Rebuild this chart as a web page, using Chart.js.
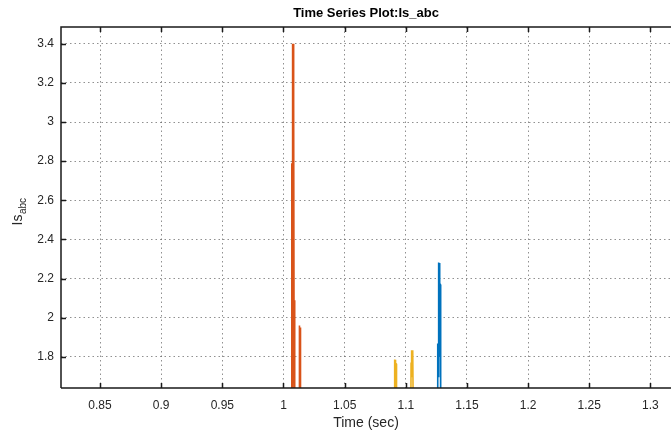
<!DOCTYPE html>
<html>
<head>
<meta charset="utf-8">
<script src="https://cdn.jsdelivr.net/npm/chart.js@4.4.1/dist/chart.umd.min.js"></script>
<style>
  html, body { margin: 0; padding: 0; background: #ffffff; overflow: hidden; }
  canvas { display: block; }
</style>
</head>
<body>
<canvas id="c" width="671" height="432"></canvas>
<script>
// ---- data ----
const titleText = 'Time Series Plot:Is_abc';
const xTitle = 'Time (sec)';
const yLabelMain = 'Is';
const yLabelSub = 'abc';

const xTicks = [0.85, 0.9, 0.95, 1, 1.05, 1.1, 1.15, 1.2, 1.25, 1.3];
const xTickLabels = ['0.85', '0.9', '0.95', '1', '1.05', '1.1', '1.15', '1.2', '1.25', '1.3'];
const yTicks = [1.8, 2, 2.2, 2.4, 2.6, 2.8, 3, 3.2, 3.4];
const yTickLabels = ['1.8', '2', '2.2', '2.4', '2.6', '2.8', '3', '3.2', '3.4'];

// Is_a (blue)
const timeA = [0.80, 1.1259, 1.1261, 1.1264, 1.1267, 1.1270, 1.1273, 1.1276, 1.1278, 1.1282, 1.1285, 1.35];
const isA   = [1.50, 1.50,   1.869,  1.70,   2.283,  1.80,   2.280,  1.80,   2.176,  2.170,  1.50,   1.50];
// Is_b (orange)
const timeB = [0.80, 1.0066, 1.0068, 1.0070, 1.0073, 1.0076, 1.0079, 1.0082, 1.0084, 1.0087, 1.0089, 1.0092, 1.0094,
               1.0127, 1.0129, 1.0132, 1.0135, 1.0137, 1.0139, 1.0141, 1.35];
const isB   = [1.50, 1.50,   2.79,   1.60,   3.40,   1.70,   3.40,   1.70,   3.10,   1.70,   2.09,   2.07,   1.50,
               1.50,   1.96,   1.70,   1.95,   1.62,   1.68,   1.50,   1.50];
// Is_c (yellow)
const timeC = [0.80, 1.0907, 1.0909, 1.0912, 1.0915, 1.0917, 1.0921, 1.0924,
               1.1041, 1.1043, 1.1046, 1.1049, 1.1052, 1.1055, 1.1058, 1.1061, 1.35];
const isC   = [1.50, 1.50,   1.787,  1.70,   1.785,  1.766,  1.765,  1.50,
               1.50,   1.772,  1.70,   1.834,  1.70,   1.834,  1.830,  1.50,   1.50];

const xMin = 0.8181, xMax = 1.3168;
const yMin = 1.6413, yMax = 3.4855;

const toXY = (t, v) => t.map((x, i) => ({ x: x, y: v[i] }));

const textColor = '#262626';
const font = 'Liberation Sans, Arial, Helvetica, sans-serif';

const decor = {
  id: 'decor',
  afterDraw(chart) {
    const ctx = chart.ctx;
    const a = chart.chartArea;
    const xs = chart.scales.x, ys = chart.scales.y;
    ctx.save();
    ctx.strokeStyle = '#1a1a1a';
    ctx.lineWidth = 1.5;
    ctx.beginPath();
    ctx.moveTo(a.left, a.bottom);
    ctx.lineTo(a.left, a.top);
    ctx.lineTo(a.right + 2, a.top);
    ctx.moveTo(a.left, a.bottom);
    ctx.lineTo(a.right + 2, a.bottom);
    ctx.stroke();
    ctx.lineWidth = 1.5;
    ctx.beginPath();
    xTicks.forEach(v => {
      const px = Math.round(xs.getPixelForValue(v)) + 0.5;
      ctx.moveTo(px, a.bottom); ctx.lineTo(px, a.bottom - 5);
      ctx.moveTo(px, a.top); ctx.lineTo(px, a.top + 5);
    });
    yTicks.forEach(v => {
      const py = Math.round(ys.getPixelForValue(v)) + 0.5;
      ctx.moveTo(a.left, py); ctx.lineTo(a.left + 5, py);
    });
    ctx.stroke();
    ctx.fillStyle = '#000';
    ctx.font = 'bold 13px ' + font;
    ctx.textAlign = 'center';
    ctx.textBaseline = 'middle';
    ctx.fillText(titleText, (a.left + a.right) / 2, 13);
    ctx.fillStyle = textColor;
    ctx.font = '14px ' + font;
    ctx.fillText(xTitle, (a.left + a.right) / 2, 423);
    ctx.translate(17, 212);
    ctx.rotate(-Math.PI / 2);
    ctx.font = '14px ' + font;
    const w1 = ctx.measureText(yLabelMain).width;
    ctx.font = '10px ' + font;
    const w2 = ctx.measureText(yLabelSub).width;
    const start = -(w1 + w2) / 2;
    ctx.textAlign = 'left';
    ctx.textBaseline = 'alphabetic';
    ctx.font = '14px ' + font;
    ctx.fillText(yLabelMain, start, 5);
    ctx.font = '10px ' + font;
    ctx.fillText(yLabelSub, start + w1 + 0.5, 9);
    ctx.restore();
  }
};

const gridColor = 'rgba(70,70,70,0.6)';

new Chart(document.getElementById('c'), {
  type: 'line',
  data: {
    datasets: [
      { label: 'Is_a', data: toXY(timeA, isA), borderColor: '#0072BD', borderWidth: 1.6 },
      { label: 'Is_b', data: toXY(timeB, isB), borderColor: '#D95319', borderWidth: 1.6 },
      { label: 'Is_c', data: toXY(timeC, isC), borderColor: '#EDB120', borderWidth: 1.6 }
    ]
  },
  options: {
    responsive: false,
    animation: false,
    layout: { padding: { top: 27, right: 0, left: 0, bottom: 0 } },
    elements: { point: { radius: 0 }, line: { tension: 0 } },
    datasets: { line: { clip: 0 } },
    plugins: { legend: { display: false }, tooltip: { enabled: false }, title: { display: false } },
    scales: {
      x: {
        type: 'linear',
        min: xMin, max: xMax,
        afterBuildTicks: s => { s.ticks = xTicks.map(v => ({ value: v })); },
        afterFit: s => { s.height = 44; s.paddingLeft = 0; s.paddingRight = 0; },
        ticks: {
          callback: (v, i) => xTickLabels[i],
          font: { family: font, size: 12 }, color: textColor,
          padding: 10, maxRotation: 0, autoSkip: false
        },
        grid: { color: gridColor, lineWidth: 1, drawTicks: false },
        border: { display: false, dash: [1.5, 3] }
      },
      y: {
        type: 'linear',
        min: yMin, max: yMax,
        afterBuildTicks: s => { s.ticks = yTicks.map(v => ({ value: v })); },
        afterFit: s => { s.width = 61; },
        ticks: {
          callback: (v, i) => yTickLabels[i],
          font: { family: font, size: 12 }, color: textColor,
          padding: 7, autoSkip: false
        },
        grid: { color: gridColor, lineWidth: 1, drawTicks: false },
        border: { display: false, dash: [1.5, 3] }
      }
    }
  },
  plugins: [decor]
});
</script>
</body>
</html>
